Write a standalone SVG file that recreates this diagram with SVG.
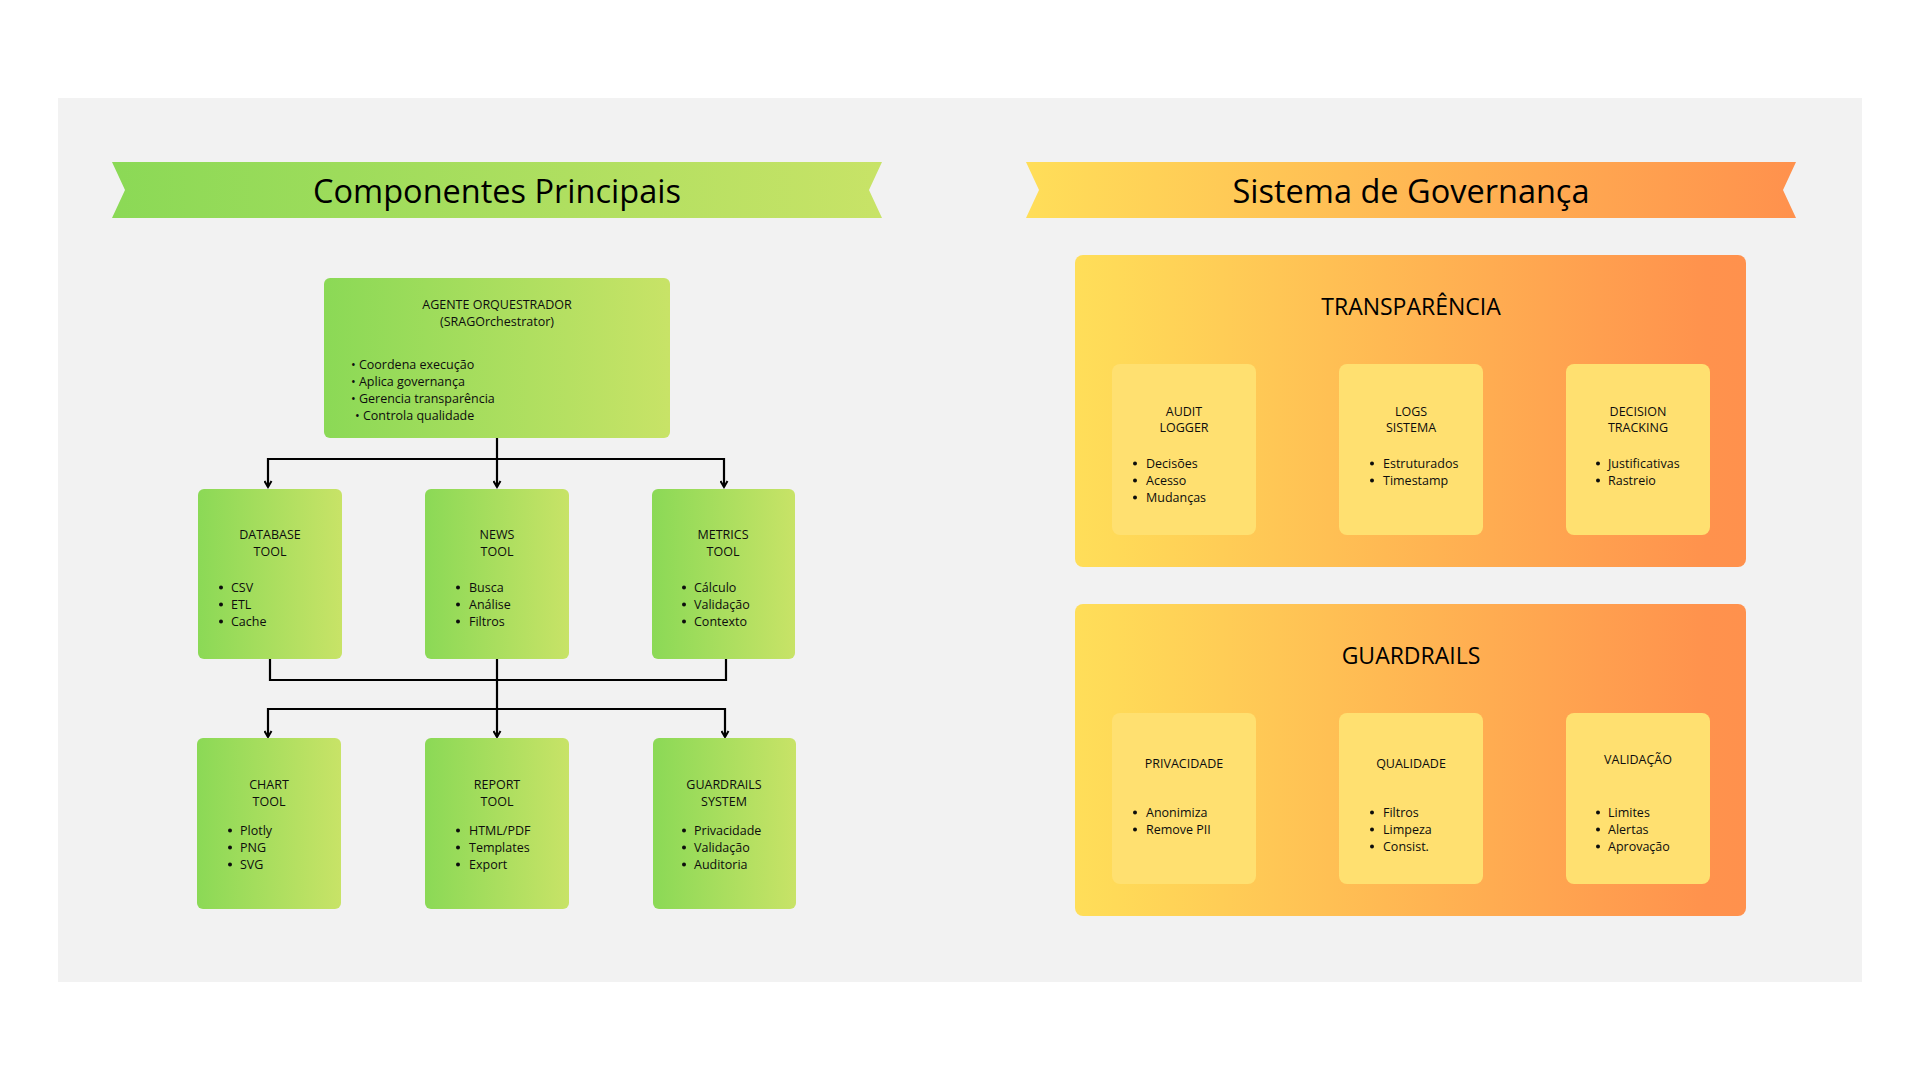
<svg xmlns="http://www.w3.org/2000/svg" width="1920" height="1080" viewBox="0 0 1920 1080">
<defs>
<linearGradient id="gGreen" x1="0" y1="0" x2="1" y2="0">
<stop offset="0" stop-color="#8BD956"/>
<stop offset="1" stop-color="#C8E367"/>
</linearGradient>
<linearGradient id="gOrange" x1="0" y1="0" x2="1" y2="0">
<stop offset="0" stop-color="#FFDE59"/>
<stop offset="1" stop-color="#FF914D"/>
</linearGradient>
<linearGradient id="gPanel" x1="0" y1="0" x2="1" y2="0">
<stop offset="0" stop-color="#FFDE59"/>
<stop offset="0.06" stop-color="#FFDA58"/>
<stop offset="0.94" stop-color="#FF924D"/>
<stop offset="1" stop-color="#FF914D"/>
</linearGradient>
<marker id="arr" markerUnits="userSpaceOnUse" viewBox="-1 -1 9 9" refX="6" refY="3.5" markerWidth="9" markerHeight="9" orient="auto">
<path d="M0,0 L6,3.5 L0,7" fill="none" stroke="#000" stroke-width="2"/>
</marker>
<style>
text{font-family:"Open Sans","Noto Sans","Liberation Sans",sans-serif;fill:#0d0d0d;}
.ban{font-size:32.5px;text-anchor:middle;fill:#000;}
.t{font-size:12.5px;text-anchor:middle;}
.b{font-size:12.5px;}
.h{font-size:23px;text-anchor:middle;fill:#000;}
.box{fill:url(#gGreen);}
.panel{fill:url(#gPanel);}
.card{fill:#FFE070;}
.con{fill:none;stroke:#000;stroke-width:2.2;}
.d{fill:#0d0d0d;}
</style>
</defs>
<rect x="0" y="0" width="1920" height="1080" fill="#FFFFFF"/>
<rect x="58" y="98" width="1804" height="884" fill="#F2F2F2"/>

<g id="banner-left">
<path d="M112,162 H882 L869,190 L882,218 H112 L125,190 Z" fill="url(#gGreen)"/>
<text class="ban" x="497" y="203">Componentes Principais</text>
</g>
<g id="banner-right">
<path d="M1026,162 H1796 L1783,190 L1796,218 H1026 L1039,190 Z" fill="url(#gOrange)"/>
<text class="ban" x="1411" y="203">Sistema de Governança</text>
</g>

<g id="connectors">
<path class="con" d="M497,438 V487" marker-end="url(#arr)"/>
<path class="con" d="M497,459 H268 V487" marker-end="url(#arr)"/>
<path class="con" d="M497,459 H724 V487" marker-end="url(#arr)"/>
<path class="con" d="M270,659 V680 H726 V659"/>
<path class="con" d="M497,659 V737" marker-end="url(#arr)"/>
<path class="con" d="M497,709 H268 V737" marker-end="url(#arr)"/>
<path class="con" d="M497,709 H725 V737" marker-end="url(#arr)"/>
</g>

<g id="orchestrator">
<rect class="box" x="324" y="278" width="346" height="160" rx="6"/>
<text class="t" x="497" y="309">AGENTE ORQUESTRADOR</text>
<text class="t" x="497" y="326">(SRAGOrchestrator)</text>
<text class="b" x="351" y="369">• Coordena execução</text>
<text class="b" x="351" y="386">• Aplica governança</text>
<text class="b" x="351" y="403">• Gerencia transparência</text>
<text class="b" x="355" y="420">• Controla qualidade</text>
</g>

<g id="database-tool">
<rect class="box" x="198" y="489" width="144" height="170" rx="6"/>
<text class="t" x="270" y="539">DATABASE</text>
<text class="t" x="270" y="556">TOOL</text>
<circle class="d" cx="221" cy="587.5" r="2"/><text class="b" x="231" y="592">CSV</text>
<circle class="d" cx="221" cy="604.5" r="2"/><text class="b" x="231" y="609">ETL</text>
<circle class="d" cx="221" cy="621.5" r="2"/><text class="b" x="231" y="626">Cache</text>
</g>
<g id="news-tool">
<rect class="box" x="425" y="489" width="144" height="170" rx="6"/>
<text class="t" x="497" y="539">NEWS</text>
<text class="t" x="497" y="556">TOOL</text>
<circle class="d" cx="458" cy="587.5" r="2"/><text class="b" x="469" y="592">Busca</text>
<circle class="d" cx="458" cy="604.5" r="2"/><text class="b" x="469" y="609">Análise</text>
<circle class="d" cx="458" cy="621.5" r="2"/><text class="b" x="469" y="626">Filtros</text>
</g>
<g id="metrics-tool">
<rect class="box" x="652" y="489" width="143" height="170" rx="6"/>
<text class="t" x="723" y="539">METRICS</text>
<text class="t" x="723" y="556">TOOL</text>
<circle class="d" cx="684" cy="587.5" r="2"/><text class="b" x="694" y="592">Cálculo</text>
<circle class="d" cx="684" cy="604.5" r="2"/><text class="b" x="694" y="609">Validação</text>
<circle class="d" cx="684" cy="621.5" r="2"/><text class="b" x="694" y="626">Contexto</text>
</g>

<g id="chart-tool">
<rect class="box" x="197" y="738" width="144" height="171" rx="6"/>
<text class="t" x="269" y="789">CHART</text>
<text class="t" x="269" y="806">TOOL</text>
<circle class="d" cx="230" cy="830.5" r="2"/><text class="b" x="240" y="835">Plotly</text>
<circle class="d" cx="230" cy="847.5" r="2"/><text class="b" x="240" y="852">PNG</text>
<circle class="d" cx="230" cy="864.5" r="2"/><text class="b" x="240" y="869">SVG</text>
</g>
<g id="report-tool">
<rect class="box" x="425" y="738" width="144" height="171" rx="6"/>
<text class="t" x="497" y="789">REPORT</text>
<text class="t" x="497" y="806">TOOL</text>
<circle class="d" cx="458" cy="830.5" r="2"/><text class="b" x="469" y="835">HTML/PDF</text>
<circle class="d" cx="458" cy="847.5" r="2"/><text class="b" x="469" y="852">Templates</text>
<circle class="d" cx="458" cy="864.5" r="2"/><text class="b" x="469" y="869">Export</text>
</g>
<g id="guardrails-system">
<rect class="box" x="653" y="738" width="143" height="171" rx="6"/>
<text class="t" x="724" y="789">GUARDRAILS</text>
<text class="t" x="724" y="806">SYSTEM</text>
<circle class="d" cx="684" cy="830.5" r="2"/><text class="b" x="694" y="835">Privacidade</text>
<circle class="d" cx="684" cy="847.5" r="2"/><text class="b" x="694" y="852">Validação</text>
<circle class="d" cx="684" cy="864.5" r="2"/><text class="b" x="694" y="869">Auditoria</text>
</g>

<g id="transparencia">
<rect class="panel" x="1075" y="255" width="671" height="312" rx="8"/>
<text class="h" x="1411" y="315">TRANSPARÊNCIA</text>
</g>
<g id="audit-logger">
<rect class="card" x="1112" y="364" width="144" height="171" rx="8"/>
<text class="t" x="1184" y="416">AUDIT</text>
<text class="t" x="1184" y="432">LOGGER</text>
<circle class="d" cx="1135" cy="463.5" r="2"/><text class="b" x="1146" y="468">Decisões</text>
<circle class="d" cx="1135" cy="480.5" r="2"/><text class="b" x="1146" y="485">Acesso</text>
<circle class="d" cx="1135" cy="497.5" r="2"/><text class="b" x="1146" y="502">Mudanças</text>
</g>
<g id="logs-sistema">
<rect class="card" x="1339" y="364" width="144" height="171" rx="8"/>
<text class="t" x="1411" y="416">LOGS</text>
<text class="t" x="1411" y="432">SISTEMA</text>
<circle class="d" cx="1372" cy="463.5" r="2"/><text class="b" x="1383" y="468">Estruturados</text>
<circle class="d" cx="1372" cy="480.5" r="2"/><text class="b" x="1383" y="485">Timestamp</text>
</g>
<g id="decision-tracking">
<rect class="card" x="1566" y="364" width="144" height="171" rx="8"/>
<text class="t" x="1638" y="416">DECISION</text>
<text class="t" x="1638" y="432">TRACKING</text>
<circle class="d" cx="1598" cy="463.5" r="2"/><text class="b" x="1608" y="468">Justificativas</text>
<circle class="d" cx="1598" cy="480.5" r="2"/><text class="b" x="1608" y="485">Rastreio</text>
</g>

<g id="guardrails">
<rect class="panel" x="1075" y="604" width="671" height="312" rx="8"/>
<text class="h" x="1411" y="664">GUARDRAILS</text>
</g>
<g id="privacidade">
<rect class="card" x="1112" y="713" width="144" height="171" rx="8"/>
<text class="t" x="1184" y="768">PRIVACIDADE</text>
<circle class="d" cx="1135" cy="812.5" r="2"/><text class="b" x="1146" y="817">Anonimiza</text>
<circle class="d" cx="1135" cy="829.5" r="2"/><text class="b" x="1146" y="834">Remove PII</text>
</g>
<g id="qualidade">
<rect class="card" x="1339" y="713" width="144" height="171" rx="8"/>
<text class="t" x="1411" y="768">QUALIDADE</text>
<circle class="d" cx="1372" cy="812.5" r="2"/><text class="b" x="1383" y="817">Filtros</text>
<circle class="d" cx="1372" cy="829.5" r="2"/><text class="b" x="1383" y="834">Limpeza</text>
<circle class="d" cx="1372" cy="846.5" r="2"/><text class="b" x="1383" y="851">Consist.</text>
</g>
<g id="validacao">
<rect class="card" x="1566" y="713" width="144" height="171" rx="8"/>
<text class="t" x="1638" y="764">VALIDAÇÃO</text>
<circle class="d" cx="1598" cy="812.5" r="2"/><text class="b" x="1608" y="817">Limites</text>
<circle class="d" cx="1598" cy="829.5" r="2"/><text class="b" x="1608" y="834">Alertas</text>
<circle class="d" cx="1598" cy="846.5" r="2"/><text class="b" x="1608" y="851">Aprovação</text>
</g>
</svg>
